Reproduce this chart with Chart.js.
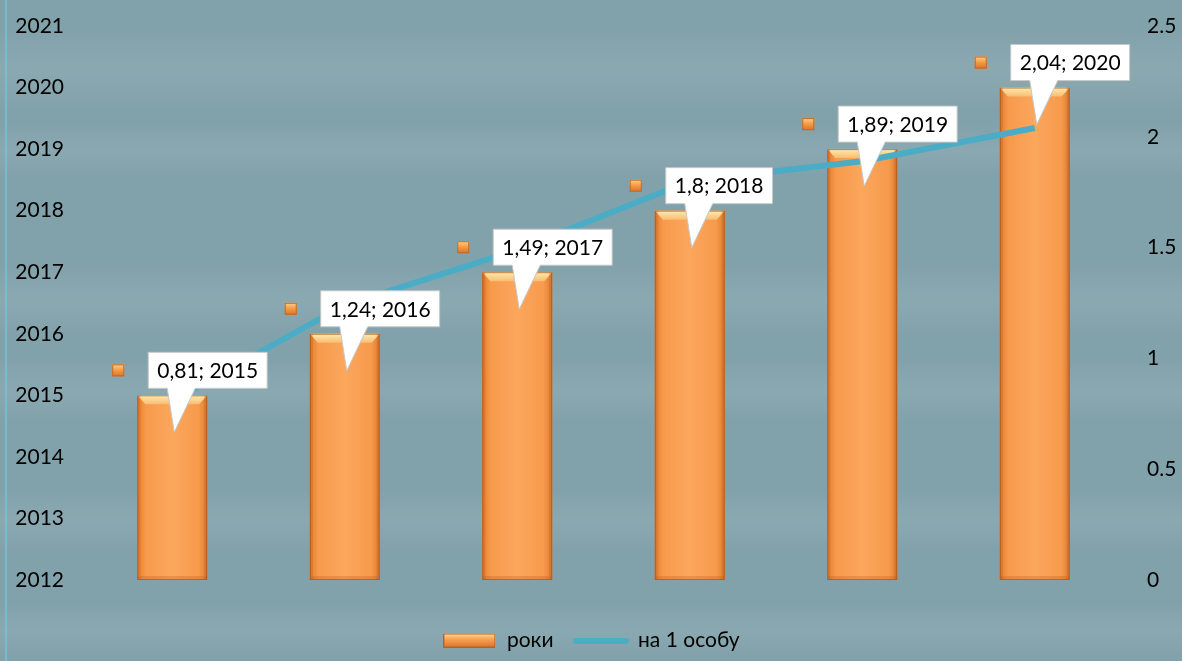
<!DOCTYPE html>
<html>
<head>
<meta charset="utf-8">
<script src="https://cdn.jsdelivr.net/npm/chart.js@4"></script>
<style>
  html, body { margin: 0; padding: 0; background: #82a2ab; }
  #wrap { width: 1182px; height: 661px; }
</style>
</head>
<body>
<div id="wrap"><canvas id="grafico" width="1182" height="661"></canvas></div>
<script>
// dados
const roki = [2015, 2016, 2017, 2018, 2019, 2020]
const naOsobu = [0.81, 1.24, 1.49, 1.8, 1.89, 2.04]
const ticksLivo = [2012, 2013, 2014, 2015, 2016, 2017, 2018, 2019, 2020, 2021]
const ticksPravo = [0, 0.5, 1, 1.5, 2, 2.5]

const FONTE = 'Lato, "Open Sans", sans-serif'

// swatches da legenda
function swatchBarra() {
    var c = document.createElement('canvas')
    c.width = 52; c.height = 14
    var g = c.getContext('2d')
    var gr = g.createLinearGradient(0, 0, 0, 14)
    gr.addColorStop(0, '#fde3a0')
    gr.addColorStop(0.35, '#f9a75a')
    gr.addColorStop(1, '#d9742a')
    g.fillStyle = gr
    g.fillRect(0, 0, 52, 14)
    g.strokeStyle = '#b8621f'
    g.strokeRect(0.5, 0.5, 51, 13)
    return c
}
function swatchLinha() {
    var c = document.createElement('canvas')
    c.width = 56; c.height = 6
    var g = c.getContext('2d')
    g.fillStyle = '#4bacc6'
    g.beginPath()
    g.arc(3, 3, 3, Math.PI / 2, Math.PI * 1.5)
    g.lineTo(53, 0)
    g.arc(53, 3, 3, -Math.PI / 2, Math.PI / 2)
    g.closePath()
    g.fill()
    return c
}

// fundo
const fundo = {
    id: 'fundo',
    beforeDraw(chart) {
        var ctx = chart.ctx
        var W = chart.width, H = chart.height
        ctx.save()
        ctx.fillStyle = '#82a2ab'
        ctx.fillRect(0, 0, W, H)
        // faixas claras suaves
        var faixas = [[70, 40], [150, 25], [300, 35], [390, 30], [520, 30], [630, 25]]
        faixas.forEach(function (f) {
            var g = ctx.createLinearGradient(0, f[0] - f[1], 0, f[0] + f[1])
            g.addColorStop(0, 'rgba(255,255,255,0)')
            g.addColorStop(0.5, 'rgba(255,255,255,0.07)')
            g.addColorStop(1, 'rgba(255,255,255,0)')
            ctx.fillStyle = g
            ctx.fillRect(0, f[0] - f[1], W, f[1] * 2)
        })
        ctx.fillStyle = 'rgba(120, 200, 225, 0.6)'
        ctx.fillRect(5, 0, 2, H)
        ctx.restore()
    }
}

// gradiente e bisel das barras
const barras3d = {
    id: 'barras3d',
    afterDatasetDraw(chart, args) {
        if (args.index !== 0) return
        var ctx = chart.ctx
        var meta = chart.getDatasetMeta(0)
        ctx.save()
        meta.data.forEach(function (bar) {
            var l = bar.x - bar.width / 2, r = bar.x + bar.width / 2, t = bar.y, b = bar.base
            var gr = ctx.createLinearGradient(l, 0, r, 0)
            gr.addColorStop(0, '#e07d30')
            gr.addColorStop(0.12, '#f79a4c')
            gr.addColorStop(0.5, '#fba75d')
            gr.addColorStop(0.88, '#f79a4c')
            gr.addColorStop(1, '#dd7a2e')
            ctx.fillStyle = gr
            ctx.fillRect(l, t, r - l, b - t)
            var gt = ctx.createLinearGradient(0, t, 0, t + 9)
            gt.addColorStop(0, '#fdebb0')
            gt.addColorStop(1, '#f8bd72')
            ctx.fillStyle = gt
            ctx.beginPath()
            ctx.moveTo(l, t); ctx.lineTo(r, t); ctx.lineTo(r - 8, t + 9); ctx.lineTo(l + 8, t + 9)
            ctx.closePath(); ctx.fill()
            ctx.fillStyle = 'rgba(190, 95, 30, 0.3)'
            ctx.fillRect(l, t, 3, b - t)
            ctx.fillRect(r - 3, t, 3, b - t)
            ctx.fillRect(l, b - 4, r - l, 4)
            ctx.strokeStyle = 'rgba(170, 85, 25, 0.7)'
            ctx.lineWidth = 1
            ctx.strokeRect(l + 0.5, t + 0.5, r - l - 1, b - t - 1)
        })
        ctx.restore()
    }
}

// rotulos tipo balao
const baloes = {
    id: 'baloes',
    afterDatasetsDraw(chart) {
        var ctx = chart.ctx
        var meta = chart.getDatasetMeta(0)
        ctx.save()
        ctx.font = '21px ' + FONTE
        meta.data.forEach(function (bar, i) {
            var texto = String(naOsobu[i]).replace('.', ',') + '; ' + roki[i]
            var w = ctx.measureText(texto).width + 18
            var h = 36
            var x0 = bar.x - 24
            var y0 = bar.y - 43
            // balao
            ctx.fillStyle = '#ffffff'
            ctx.strokeStyle = '#c8c8c8'
            ctx.lineWidth = 1
            ctx.beginPath()
            ctx.moveTo(x0, y0)
            ctx.lineTo(x0 + w, y0)
            ctx.lineTo(x0 + w, y0 + h)
            ctx.lineTo(bar.x + 23, y0 + h)
            ctx.lineTo(bar.x + 2, bar.y + 37)
            ctx.lineTo(bar.x - 5, y0 + h)
            ctx.lineTo(x0, y0 + h)
            ctx.closePath()
            ctx.fill()
            ctx.stroke()
            ctx.fillStyle = '#000000'
            ctx.textAlign = 'left'
            ctx.textBaseline = 'middle'
            ctx.fillText(texto, x0 + 9, y0 + h / 2 + 1)
            // quadradinho
            var qx = bar.x - 60, qy = y0 + h / 2 - 6
            var gq = ctx.createLinearGradient(0, qy, 0, qy + 12)
            gq.addColorStop(0, '#fcd08a')
            gq.addColorStop(0.5, '#f59a45')
            gq.addColorStop(1, '#d8722a')
            ctx.fillStyle = gq
            ctx.fillRect(qx, qy, 12, 12)
            ctx.strokeStyle = '#c06a28'
            ctx.strokeRect(qx + 0.5, qy + 0.5, 11, 11)
        })
        ctx.restore()
    }
}

const ctx = document.getElementById('grafico')

new Chart(ctx, {
    data: {
        labels: roki.map(String),
        datasets: [{
            type: 'bar',
            label: 'роки',
            data: roki,
            base: 2012,
            yAxisID: 'yRoki',
            backgroundColor: '#f79a4c',
            borderWidth: 0,
            barPercentage: 0.405,
            categoryPercentage: 1,
            order: 2
        }, {
            type: 'line',
            label: 'на 1 особу',
            data: naOsobu,
            yAxisID: 'yOsoba',
            borderColor: '#4bacc6',
            backgroundColor: '#4bacc6',
            borderWidth: 6,
            pointRadius: 0,
            tension: 0,
            order: 1
        }]
    },
    options: {
        responsive: false,
        animation: false,
        layout: { padding: { top: 26, bottom: 0, left: 0, right: 0 } },
        scales: {
            x: {
                display: true,
                grid: { display: false, drawTicks: false },
                border: { display: false },
                ticks: { display: false },
                afterFit: function (s) { s.height = 30 }
            },
            yRoki: {
                position: 'left',
                min: 2012,
                max: 2021,
                afterBuildTicks: function (s) { s.ticks = ticksLivo.map(v => ({ value: v })) },
                grid: { display: false, drawTicks: false },
                border: { display: false },
                ticks: {
                    color: '#000',
                    font: { family: FONTE, size: 21 },
                    padding: 22,
                    callback: v => String(v)
                },
                afterFit: function (s) { s.width = 86; s.paddingTop = 0; s.paddingBottom = 0 }
            },
            yOsoba: {
                position: 'right',
                min: 0,
                max: 2.5,
                afterBuildTicks: function (s) { s.ticks = ticksPravo.map(v => ({ value: v })) },
                grid: { display: false, drawTicks: false },
                border: { display: false },
                ticks: {
                    color: '#000',
                    font: { family: FONTE, size: 21 },
                    padding: 26,
                    callback: v => String(v)
                },
                afterFit: function (s) { s.width = 61; s.paddingTop = 0; s.paddingBottom = 0 }
            }
        },
        plugins: {
            legend: {
                position: 'bottom',
                labels: {
                    color: '#000',
                    font: { family: FONTE, size: 21 },
                    usePointStyle: true,
                    pointStyleWidth: 54,
                    padding: 20,
                    generateLabels: function (chart) {
                        return [
                            { text: 'роки', pointStyle: swatchBarra(), datasetIndex: 0, fontColor: '#000', lineWidth: 0, strokeStyle: 'transparent', fillStyle: 'transparent' },
                            { text: 'на 1 особу', pointStyle: swatchLinha(), datasetIndex: 1, fontColor: '#000', lineWidth: 0, strokeStyle: 'transparent', fillStyle: 'transparent' }
                        ]
                    }
                }
            },
            tooltip: { enabled: false }
        }
    },
    plugins: [fundo, barras3d, baloes]
});
</script>
</body>
</html>
